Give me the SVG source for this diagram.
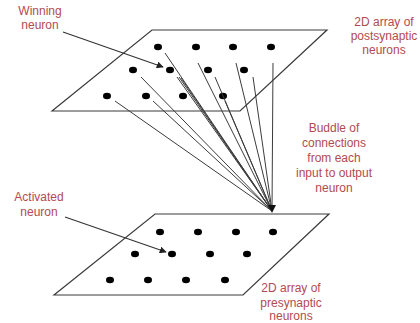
<svg xmlns="http://www.w3.org/2000/svg" width="420" height="323" viewBox="0 0 420 323">
<style>
.plane{fill:none;stroke:#3a3a3a;stroke-width:1.2}
.dot{fill:#000}
.lbl{font-family:"Liberation Sans",Arial,sans-serif;font-size:12px;fill:#b24a50;text-anchor:middle}
.conn line{stroke:#3c3c3c;stroke-width:1}
.ptr{stroke:#333;stroke-width:1.1;fill:none}
</style>
<defs>
<marker id="ah" viewBox="0 0 10 10" refX="9" refY="5" markerWidth="7" markerHeight="7" orient="auto" markerUnits="userSpaceOnUse">
<path d="M0,0 L10,5 L0,10 z" fill="#222"/>
</marker>
</defs>
<rect width="420" height="323" fill="#fff"/>
<g id="top-plane">
<polygon class="plane" points="52,111 152,30 327,30 240,111"/>
<g class="dot">
<ellipse cx="158" cy="47" rx="4" ry="3.3"/><ellipse cx="196" cy="47" rx="4" ry="3.3"/><ellipse cx="233" cy="47" rx="4" ry="3.3"/><ellipse cx="271" cy="47" rx="4" ry="3.3"/>
<ellipse cx="133" cy="70" rx="4" ry="3.3"/><ellipse cx="170" cy="70" rx="4" ry="3.3"/><ellipse cx="208" cy="70" rx="4" ry="3.3"/><ellipse cx="244" cy="70" rx="4" ry="3.3"/>
<ellipse cx="107" cy="96" rx="4" ry="3.3"/><ellipse cx="146" cy="96" rx="4" ry="3.3"/><ellipse cx="183" cy="96" rx="4" ry="3.3"/><ellipse cx="223" cy="96" rx="4" ry="3.3"/>
</g>
</g>
<g id="bottom-plane">
<polygon class="plane" points="54,295 155,214 329,214 243,295"/>
<g class="dot">
<ellipse cx="160" cy="232" rx="4" ry="3.3"/><ellipse cx="198" cy="232" rx="4" ry="3.3"/><ellipse cx="236" cy="232" rx="4" ry="3.3"/><ellipse cx="273" cy="232" rx="4" ry="3.3"/>
<ellipse cx="135" cy="254" rx="4" ry="3.3"/><ellipse cx="172" cy="254" rx="4" ry="3.3"/><ellipse cx="210" cy="254" rx="4" ry="3.3"/><ellipse cx="247" cy="254" rx="4" ry="3.3"/>
<ellipse cx="110" cy="280" rx="4" ry="3.3"/><ellipse cx="148" cy="280" rx="4" ry="3.3"/><ellipse cx="186" cy="280" rx="4" ry="3.3"/><ellipse cx="225" cy="280" rx="4" ry="3.3"/>
</g>
</g>
<g id="connectors" class="conn">
<line x1="165" y1="53" x2="272" y2="211"/>
<line x1="198" y1="63" x2="272" y2="211"/>
<line x1="236" y1="63" x2="272" y2="211"/>
<line x1="273" y1="63" x2="272" y2="211"/>
<line x1="141" y1="77" x2="272" y2="211"/>
<line x1="177" y1="77" x2="272" y2="211"/>
<line x1="179" y1="77" x2="272" y2="211"/>
<line x1="181" y1="78" x2="272" y2="211"/>
<line x1="215" y1="77" x2="272" y2="211"/>
<line x1="253" y1="77" x2="272" y2="211"/>
<line x1="115" y1="101" x2="272" y2="211"/>
<line x1="153" y1="101" x2="272" y2="211"/>
<line x1="225" y1="101" x2="272" y2="211"/>
<path d="M268,205 L272,213 L276,205 z" fill="#111" stroke="none"/>
</g>
<g id="pointers">
<line class="ptr" x1="63" y1="32" x2="163" y2="67" marker-end="url(#ah)"/>
<line class="ptr" x1="65" y1="217" x2="166" y2="252" marker-end="url(#ah)"/>
</g>
<g id="labels">
<text class="lbl" x="40" y="15">Winning</text>
<text class="lbl" x="40" y="29">neuron</text>
<text class="lbl" x="384" y="26">2D array of</text>
<text class="lbl" x="384" y="40">postsynaptic</text>
<text class="lbl" x="384" y="54">neurons</text>
<text class="lbl" x="334" y="132">Buddle of</text>
<text class="lbl" x="334" y="147">connections</text>
<text class="lbl" x="334" y="162">from each</text>
<text class="lbl" x="334" y="177">input to output</text>
<text class="lbl" x="334" y="192">neuron</text>
<text class="lbl" x="39" y="201">Activated</text>
<text class="lbl" x="39" y="216">neuron</text>
<text class="lbl" x="291" y="292">2D array of</text>
<text class="lbl" x="291" y="307">presynaptic</text>
<text class="lbl" x="291" y="320">neurons</text>
</g>
</svg>
